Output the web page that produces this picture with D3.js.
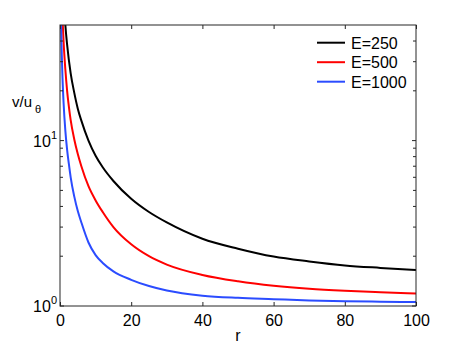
<!DOCTYPE html>
<html>
<head>
<meta charset="UTF-8">
<title>v/u vs r</title>
<script src="https://d3js.org/d3.v7.min.js"></script>
<style>
  body { margin: 0; background: #fff; }
  svg { display: block; font-family: "Liberation Sans", Arial, sans-serif; }
</style>
</head>
<body>
<div id="chart"></div>
<script>
// series data: r and v/u_theta
const seriesNames = ["E=250", "E=500", "E=1000"];
const seriesColors = ["#000000", "#ff0000", "#2b4cff"];

const rE250 = [1.3, 1.5, 2, 3, 4, 5, 6, 8, 10, 12, 15, 20, 25, 30, 40, 50, 60, 70, 80, 90, 100];
const vE250 = [58, 50, 38, 25.5, 19.5, 15.6, 13.2, 10, 8.1, 6.9, 5.7, 4.45, 3.7, 3.2, 2.55, 2.22, 1.99, 1.86, 1.76, 1.7, 1.65];

const rE500 = [0.7, 0.8, 1, 1.5, 2, 2.5, 3, 4, 5, 6, 8, 10, 12, 15, 20, 25, 30, 40, 50, 60, 70, 80, 90, 100];
const vE500 = [58, 50, 40, 27, 20, 16, 13.3, 10.2, 8.3, 7.0, 5.3, 4.35, 3.7, 3.0, 2.36, 2.0, 1.78, 1.54, 1.41, 1.325, 1.27, 1.235, 1.21, 1.19];

const rE1000 = [0.25, 0.35, 0.5, 0.7, 1, 1.5, 2, 2.5, 3, 4, 5, 6, 8, 10, 12, 15, 20, 25, 30, 40, 50, 60, 70, 80, 90, 100];
const vE1000 = [58, 45, 33, 24, 17, 11.5, 8.8, 7.2, 6.0, 4.6, 3.75, 3.2, 2.42, 2.03, 1.82, 1.62, 1.44, 1.32, 1.24, 1.155, 1.12, 1.10, 1.08, 1.07, 1.062, 1.057];

const xTicks = [0, 20, 40, 60, 80, 100];
const yMajor = [1, 10];
const yMinor = [2, 3, 4, 5, 6, 7, 8, 9, 20, 30, 40];

const series = [
  { name: seriesNames[0], color: seriesColors[0], r: rE250, v: vE250 },
  { name: seriesNames[1], color: seriesColors[1], r: rE500, v: vE500 },
  { name: seriesNames[2], color: seriesColors[2], r: rE1000, v: vE1000 }
];

const width = 460, height = 346;
const plotL = 60, plotR = 416, plotT = 25, plotB = 306;
const axisColor = "#262626";

const svg = d3.select("#chart").append("svg")
  .attr("width", width)
  .attr("height", height);

const x = d3.scaleLinear().domain([0, 100]).range([plotL, plotR]);
const y = d3.scaleLog().domain([1, 50]).range([plotB, plotT]);

svg.append("defs").append("clipPath").attr("id", "plot-clip")
  .append("rect")
  .attr("x", plotL).attr("y", plotT)
  .attr("width", plotR - plotL).attr("height", plotB - plotT);

// curves
const line = d3.line()
  .x(d => x(d[0]))
  .y(d => y(d[1]))
  .curve(d3.curveMonotoneX);

svg.append("g")
  .attr("clip-path", "url(#plot-clip)")
  .selectAll("path")
  .data(series)
  .join("path")
  .attr("d", s => line(d3.zip(s.r, s.v)))
  .attr("fill", "none")
  .attr("stroke", s => s.color)
  .attr("stroke-width", 2);

// x axes (bottom with labels, top only ticks)
const xAxis = svg.append("g")
  .attr("transform", `translate(0,${plotB})`)
  .call(d3.axisBottom(x).tickValues(xTicks).tickSizeInner(-4).tickSizeOuter(0).tickPadding(9));
svg.append("g")
  .attr("transform", `translate(0,${plotT})`)
  .call(d3.axisTop(x).tickValues(xTicks).tickSizeInner(-4).tickSizeOuter(0).tickFormat(""));
svg.selectAll(".domain").remove();
svg.selectAll(".tick line").attr("stroke", axisColor);
xAxis.selectAll("text")
  .attr("font-size", 16)
  .attr("font-family", "Liberation Sans, Arial, sans-serif")
  .attr("fill", "#000");

// y ticks, both sides
const yTicks = svg.append("g");
[[yMajor, 4], [yMinor, 3]].forEach(([vals, len]) => {
  vals.forEach(v => {
    yTicks.append("line")
      .attr("x1", plotL).attr("x2", plotL + len)
      .attr("y1", y(v)).attr("y2", y(v))
      .attr("stroke", axisColor);
    yTicks.append("line")
      .attr("x1", plotR).attr("x2", plotR - len)
      .attr("y1", y(v)).attr("y2", y(v))
      .attr("stroke", axisColor);
  });
});

// y tick labels 10^n
yMajor.forEach(v => {
  const t = svg.append("text")
    .attr("x", 57)
    .attr("y", y(v) + 6)
    .attr("text-anchor", "end")
    .attr("font-size", 16)
    .attr("fill", "#000");
  t.append("tspan").text("10");
  t.append("tspan")
    .attr("font-size", 11)
    .attr("dy", -8)
    .text(Math.round(Math.log10(v)));
});

// box
svg.append("rect")
  .attr("x", plotL).attr("y", plotT)
  .attr("width", plotR - plotL).attr("height", plotB - plotT)
  .attr("fill", "none")
  .attr("stroke", axisColor)
  .attr("stroke-width", 1);

// axis labels
svg.append("text")
  .attr("x", (plotL + plotR) / 2)
  .attr("y", 341)
  .attr("text-anchor", "middle")
  .attr("font-size", 16)
  .text("r");

const yl = svg.append("text")
  .attr("x", 12)
  .attr("y", 107)
  .attr("font-size", 15)
  .text("v/u");
yl.append("tspan")
  .attr("font-size", 11)
  .attr("dx", 3)
  .attr("dy", 6)
  .text("θ");

// legend
const legend = svg.append("g");
series.forEach((s, i) => {
  const ly = 42.7 + i * 19.5;
  legend.append("line")
    .attr("x1", 317).attr("x2", 345)
    .attr("y1", ly).attr("y2", ly)
    .attr("stroke", s.color)
    .attr("stroke-width", 2);
  legend.append("text")
    .attr("x", 351)
    .attr("y", ly + 6)
    .attr("font-size", 16)
    .text(s.name);
});
</script>
</body>
</html>
